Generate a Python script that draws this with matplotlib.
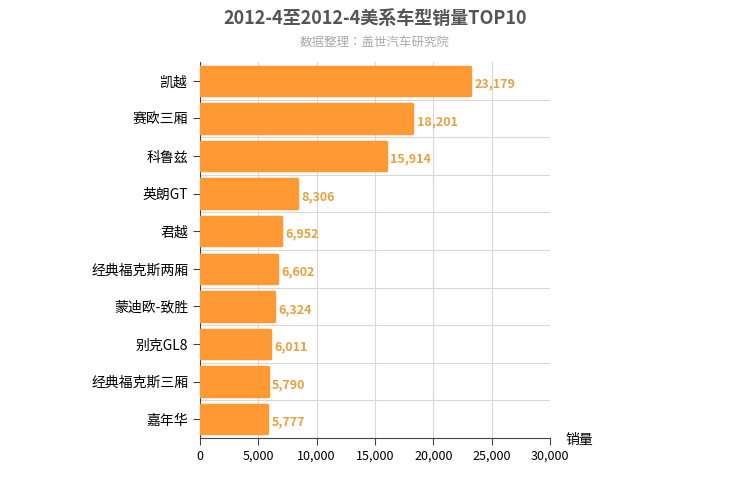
import matplotlib
matplotlib.use("Agg")
import matplotlib.pyplot as plt
from matplotlib import font_manager as fm

cjk = [f.name for f in fm.fontManager.ttflist if "CJK" in f.name]
pref = [n for n in ["Noto Sans CJK SC", "Noto Sans CJK JP", "Noto Sans CJK TC", "Noto Sans CJK KR"] if n in cjk]
plt.rcParams["font.family"] = "sans-serif"
plt.rcParams["font.sans-serif"] = (pref or cjk) + ["DejaVu Sans"]

categories = ["凯越", "赛欧三厢", "科鲁兹", "英朗GT", "君越", "经典福克斯两厢",
              "蒙迪欧-致胜", "别克GL8", "经典福克斯三厢", "嘉年华"]
values = [23179, 18201, 15914, 8306, 6952, 6602, 6324, 6011, 5790, 5777]
xticks = [0, 5000, 10000, 15000, 20000, 25000, 30000]

fig = plt.figure(figsize=(7.5, 5), dpi=100)
ax = fig.add_axes([200/750, 62/500, 350/750, 376/500])

y = list(range(len(categories)))
ax.barh(y, values, height=0.76, color="#FF9933", edgecolor="#FF9933",
        linewidth=2.5, joinstyle="round", zorder=3)
for yi, v in zip(y, values):
    ax.text(v + 400, yi + 0.08, f"{v:,}", va="center", ha="left",
            fontsize=9, color="#E8A040", fontweight="bold")

ax.set_yticks(y)
ax.set_yticklabels(categories, fontsize=10)
ax.set_ylim(len(categories) - 0.5, -0.5)
ax.set_xlim(0, 30000)
ax.set_xticks(xticks)
ax.set_xticklabels([f"{t:,}" for t in xticks], fontsize=9)
ax.grid(True, color="#D8D8D8", linewidth=0.8, zorder=0)
ax.set_yticks([i + 0.5 for i in y[:-1]], minor=True)
ax.grid(True, which="minor", axis="y", color="#D8D8D8", linewidth=0.8, zorder=0)
ax.grid(False, which="major", axis="y")
for s in ["top", "right"]:
    ax.spines[s].set_visible(False)
ax.spines["left"].set_color("#444444")
ax.spines["bottom"].set_color("#444444")
ax.tick_params(axis="y", length=5, color="#444444")
ax.tick_params(axis="x", length=5, color="#444444")
ax.tick_params(which="minor", length=0)

fig.text(565/750, 1 - 440/500, "销量", fontsize=10, ha="left", va="center")
fig.text(375/750, 1 - 18/500, "2012-4至2012-4美系车型销量TOP10", fontsize=13,
         fontweight="bold", color="#555555", ha="center", va="center")
fig.text(375/750, 1 - 42/500, "数据整理：盖世汽车研究院", fontsize=9,
         color="#AAAAAA", ha="center", va="center")

fig.savefig("out.png", dpi=100)
